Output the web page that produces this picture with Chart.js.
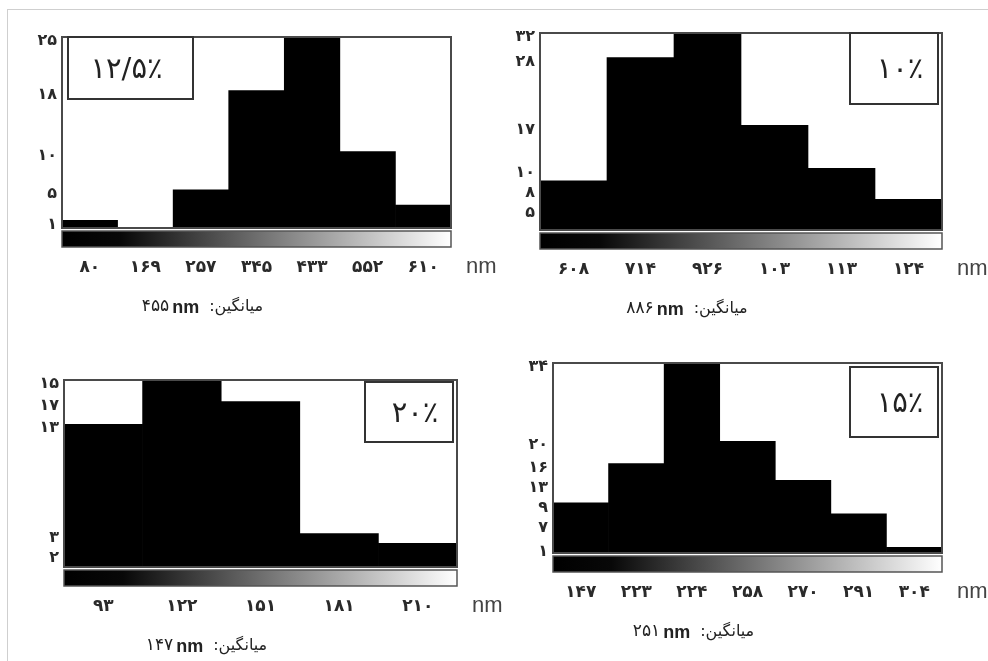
<!DOCTYPE html>
<html lang="fa">
<head>
<meta charset="utf-8">
<title>توزیع اندازه ذرات</title>
<script src="https://cdn.jsdelivr.net/npm/chart.js@4.4.1/dist/chart.umd.min.js"></script>
<style>
    html, body { margin: 0; padding: 0; background: #fff; }
    #page { position: relative; width: 988px; height: 661px; overflow: hidden; background: #fff; }
    #frame { position: absolute; left: 7px; top: 9px; right: -2px; bottom: -2px;
             border-top: 1px solid #cfcfcf; border-left: 1px solid #cfcfcf; }
    canvas { position: absolute; }
</style>
</head>
<body>
<div id="page">
    <div id="frame"></div>
    <canvas id="c125"></canvas>
    <canvas id="c10"></canvas>
    <canvas id="c20"></canvas>
    <canvas id="c15"></canvas>
</div>
<script>
    "use strict";

    // 12.5% sample
    var sizes125 = ['۸۰', '۱۶۹', '۲۵۷', '۳۴۵', '۴۳۳', '۵۵۲', '۶۱۰'];
    var counts125 = [1, 0, 5, 18, 25, 10, 3];
    var yLabels125 = ['۱', null, '۵', '۱۸', '۲۵', '۱۰', null];

    // 10% sample
    var sizes10 = ['۶۰۸', '۷۱۴', '۹۲۶', '۱۰۳', '۱۱۳', '۱۲۴'];
    var counts10 = [8, 28, 32, 17, 10, 5];
    var yLabels10 = ['۸', '۲۸', '۳۲', '۱۷', '۱۰', '۵'];

    // 20% sample (printed axis labels are not proportional, heights)
    var sizes20 = ['۹۳', '۱۲۲', '۱۵۱', '۱۸۱', '۲۱۰'];
    var counts20 = [14.5, 19, 16.8, 3.4, 2.4];
    var yLabels20 = ['۱۳', '۱۵', '۱۷', '۳', '۲'];

    // 15% sample
    var sizes15 = ['۱۴۷', '۲۲۳', '۲۲۴', '۲۵۸', '۲۷۰', '۲۹۱', '۳۰۴'];
    var counts15 = [9, 16, 34, 20, 13, 7, 1];
    var yLabels15 = ['۹', '۱۶', '۳۴', '۲۰', '۱۳', '۷', '۱'];

    var titles = ['۱۲/۵٪', '۱۰٪', '۲۰٪', '۱۵٪'];
    var means = ['۴۵۵', '۸۸۶', '۱۴۷', '۲۵۱'];
    var meanWord = 'میانگین:';
    var unit = 'nm';

    var PAD_L = 10, Y_W = 40, PAD_T = 20, PAD_R = 60, X_H = 100;
    var MIN_GAP = 20;

    var panels = [
        { id: 'c125', sizes: sizes125, counts: counts125, yLabels: yLabels125, title: titles[0], mean: means[0],
          plot: { l: 62, t: 37, r: 451, b: 228 }, box: { side: 'left', w: 125, h: 62, dy: 0 } },
        { id: 'c10', sizes: sizes10, counts: counts10, yLabels: yLabels10, title: titles[1], mean: means[1],
          plot: { l: 540, t: 33, r: 942, b: 230 }, box: { side: 'right', w: 88, h: 71, dy: 0 } },
        { id: 'c20', sizes: sizes20, counts: counts20, yLabels: yLabels20, title: titles[2], mean: means[2],
          plot: { l: 64, t: 380, r: 457, b: 567 }, box: { side: 'right', w: 88, h: 60, dy: 2 } },
        { id: 'c15', sizes: sizes15, counts: counts15, yLabels: yLabels15, title: titles[3], mean: means[3],
          plot: { l: 553, t: 363, r: 942, b: 553 }, box: { side: 'right', w: 88, h: 70, dy: 4 } }
    ];

    function makePanel(p) {
        var canvas = document.getElementById(p.id);
        var w = (p.plot.r - p.plot.l) + PAD_L + Y_W + PAD_R;
        var h = (p.plot.b - p.plot.t) + PAD_T + X_H;
        canvas.width = w;
        canvas.height = h;
        canvas.style.left = (p.plot.l - PAD_L - Y_W) + 'px';
        canvas.style.top = (p.plot.t - PAD_T) + 'px';

        var yMax = Math.max.apply(null, p.counts);

        // borders, colour bar, label box, unit and caption
        var decor = {
            id: 'decor',
            afterDatasetsDraw: function (chart) {
                var ctx = chart.ctx, ca = chart.chartArea;
                ctx.save();
                ctx.strokeStyle = '#4a4a4a';
                ctx.lineWidth = 2;
                ctx.strokeRect(ca.left, ca.top, ca.right - ca.left, ca.bottom - ca.top);

                var gy = ca.bottom + 3, gh = 16;
                var grad = ctx.createLinearGradient(ca.left, 0, ca.right, 0);
                grad.addColorStop(0, '#000');
                grad.addColorStop(0.15, '#080808');
                grad.addColorStop(1, '#fff');
                ctx.fillStyle = grad;
                ctx.fillRect(ca.left, gy, ca.right - ca.left, gh);
                ctx.strokeStyle = '#555';
                ctx.lineWidth = 1.5;
                ctx.strokeRect(ca.left, gy, ca.right - ca.left, gh);

                var bx = p.box.side === 'left' ? ca.left + 6 : ca.right - 4 - p.box.w;
                var by = ca.top + p.box.dy;
                ctx.fillStyle = '#fff';
                ctx.fillRect(bx, by, p.box.w, p.box.h);
                ctx.strokeStyle = '#333';
                ctx.lineWidth = 2;
                ctx.strokeRect(bx, by, p.box.w, p.box.h);
                ctx.fillStyle = '#222';
                ctx.font = '29px "DejaVu Sans"';
                ctx.textAlign = 'center';
                ctx.textBaseline = 'middle';
                ctx.fillText(p.title, bx + p.box.w / 2 + (p.box.side === 'left' ? -4 : 6), by + p.box.h / 2 + 2);
                ctx.restore();
            },
            afterDraw: function (chart) {
                var ctx = chart.ctx, ca = chart.chartArea;
                ctx.save();
                ctx.textBaseline = 'middle';
                ctx.textAlign = 'left';
                ctx.fillStyle = '#444';
                ctx.font = '22px "Liberation Sans"';
                ctx.fillText(unit, ca.right + 15, ca.bottom + 39);

                // caption: digits + nm + word (word written right to left)
                var fDig = '17px "DejaVu Sans"', fUnit = 'bold 18px "Liberation Sans"', fWord = '16px "DejaVu Sans"';
                ctx.font = fDig; var wDig = ctx.measureText(p.mean).width;
                ctx.font = fUnit; var wUnit = ctx.measureText(unit).width;
                ctx.direction = 'rtl';
                ctx.font = fWord; var wWord = ctx.measureText(meanWord).width;
                var total = wDig + 3 + wUnit + 10 + wWord;
                var cx = (ca.left + ca.right) / 2 - 54;
                var x = cx - total / 2, y = ca.bottom + 79;
                ctx.fillStyle = '#222';
                ctx.direction = 'ltr';
                ctx.font = fDig; ctx.fillText(p.mean, x, y);
                x += wDig + 3;
                ctx.font = fUnit; ctx.fillText(unit, x, y + 1);
                x += wUnit + 10;
                ctx.direction = 'rtl';
                ctx.font = fWord; ctx.fillText(meanWord, x, y);
                ctx.restore();
            }
        };

        return new Chart(canvas, {
            type: 'bar',
            data: {
                labels: p.sizes,
                datasets: [{
                    data: p.counts,
                    backgroundColor: '#000',
                    borderWidth: 0,
                    barPercentage: 1,
                    categoryPercentage: 1
                }]
            },
            options: {
                responsive: false,
                animation: false,
                layout: { padding: { left: PAD_L, top: PAD_T, right: PAD_R, bottom: 0 } },
                plugins: { legend: { display: false }, tooltip: { enabled: false } },
                scales: {
                    x: {
                        grid: { display: false, drawTicks: false },
                        border: { display: false },
                        ticks: {
                            color: '#2a2a2a',
                            font: { family: 'DejaVu Sans', size: 17, weight: 'bold' },
                            padding: 29,
                            maxRotation: 0,
                            autoSkip: false
                        },
                        afterFit: function (s) { s.height = X_H; }
                    },
                    y: {
                        min: 0,
                        max: yMax,
                        grid: { display: false, drawTicks: false },
                        border: { display: false },
                        ticks: {
                            color: '#2a2a2a',
                            font: { family: 'DejaVu Sans', size: 16, weight: 'bold' },
                            padding: 5,
                            labelOffset: 4,
                            autoSkip: false,
                            callback: function (val, i, ticks) { return ticks[i].text; }
                        },
                        afterFit: function (s) { s.width = Y_W; },
                        // ticks sit at the bar heights, pushed apart when they crowd
                        afterBuildTicks: function (scale) {
                            var pxPerUnit = (p.plot.b - p.plot.t) / yMax;
                            var list = [];
                            p.counts.forEach(function (v, i) {
                                if (p.yLabels[i]) list.push({ v: v, text: p.yLabels[i] });
                            });
                            list.sort(function (a, b) { return b.v - a.v; });
                            var prev = -Infinity;
                            scale.ticks = list.map(function (it) {
                                var px = (yMax - it.v) * pxPerUnit;
                                if (px < prev + MIN_GAP) px = prev + MIN_GAP;
                                prev = px;
                                return { value: yMax - px / pxPerUnit, text: it.text };
                            });
                        }
                    }
                }
            },
            plugins: [decor]
        });
    }

    panels.forEach(makePanel);
</script>
</body>
</html>
